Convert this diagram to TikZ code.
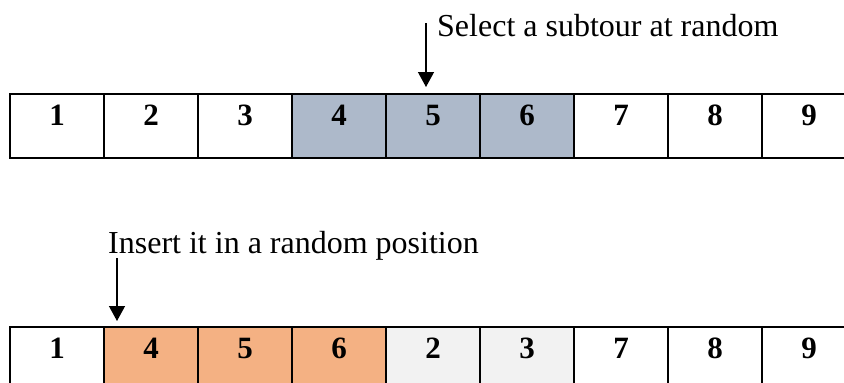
\documentclass[tikz,border=0pt]{standalone}
\usepackage{fontspec}
\setmainfont{Liberation Serif}
\usetikzlibrary{arrows.meta}
\definecolor{subtourblue}{HTML}{ADB9CA}
\definecolor{insertpeach}{HTML}{F4B183}
\definecolor{shiftedgray}{HTML}{F2F2F2}
\begin{document}
\begin{tikzpicture}[x=1pt,y=1pt,
  cell/.style={draw, line width=2.2pt, minimum width=94pt, minimum height=64pt,
    inner sep=0pt, outer sep=0pt, anchor=north west,
    font=\fontsize{31}{31}\selectfont\bfseries, text height=21pt, text depth=22pt},
  note/.style={anchor=base west, inner sep=0pt, font=\fontsize{32}{32}\selectfont},
  pointer/.style={line width=1.3pt, -{Triangle[width=16pt,length=15pt]}}]
\useasboundingbox (0,0) rectangle (844,-383);
\clip (0,0) rectangle (844,-383);

% original tour
\node[cell] (t1) at (10,-94) {1};
\node[cell] (t2) at (104,-94) {2};
\node[cell] (t3) at (198,-94) {3};
\node[cell, fill=subtourblue] (t4) at (292,-94) {4};
\node[cell, fill=subtourblue] (t5) at (386,-94) {5};
\node[cell, fill=subtourblue] (t6) at (480,-94) {6};
\node[cell] (t7) at (574,-94) {7};
\node[cell] (t8) at (668,-94) {8};
\node[cell] (t9) at (762,-94) {9};

% tour after reinsertion of the subtour
\node[cell] (b1) at (10,-327) {1};
\node[cell, fill=insertpeach] (b2) at (104,-327) {4};
\node[cell, fill=insertpeach] (b3) at (198,-327) {5};
\node[cell, fill=insertpeach] (b4) at (292,-327) {6};
\node[cell, fill=shiftedgray] (b5) at (386,-327) {2};
\node[cell, fill=shiftedgray] (b6) at (480,-327) {3};
\node[cell] (b7) at (574,-327) {7};
\node[cell] (b8) at (668,-327) {8};
\node[cell] (b9) at (762,-327) {9};

% annotations
\node[note] (sel) at (437,-36) {Select a subtour at random};
\coordinate (selStart) at (426,-23);
\coordinate (selEnd) at ([xshift=-7pt,yshift=7pt]t5.north);
\draw[pointer] (selStart) -- (selEnd);

\node[note] (ins) at (108,-253) {Insert it in a random position};
\coordinate (insStart) at (117,-258);
\coordinate (insEnd) at ([xshift=-34pt,yshift=6pt]b2.north);
\draw[pointer] (insStart) -- (insEnd);
\end{tikzpicture}
\end{document}
